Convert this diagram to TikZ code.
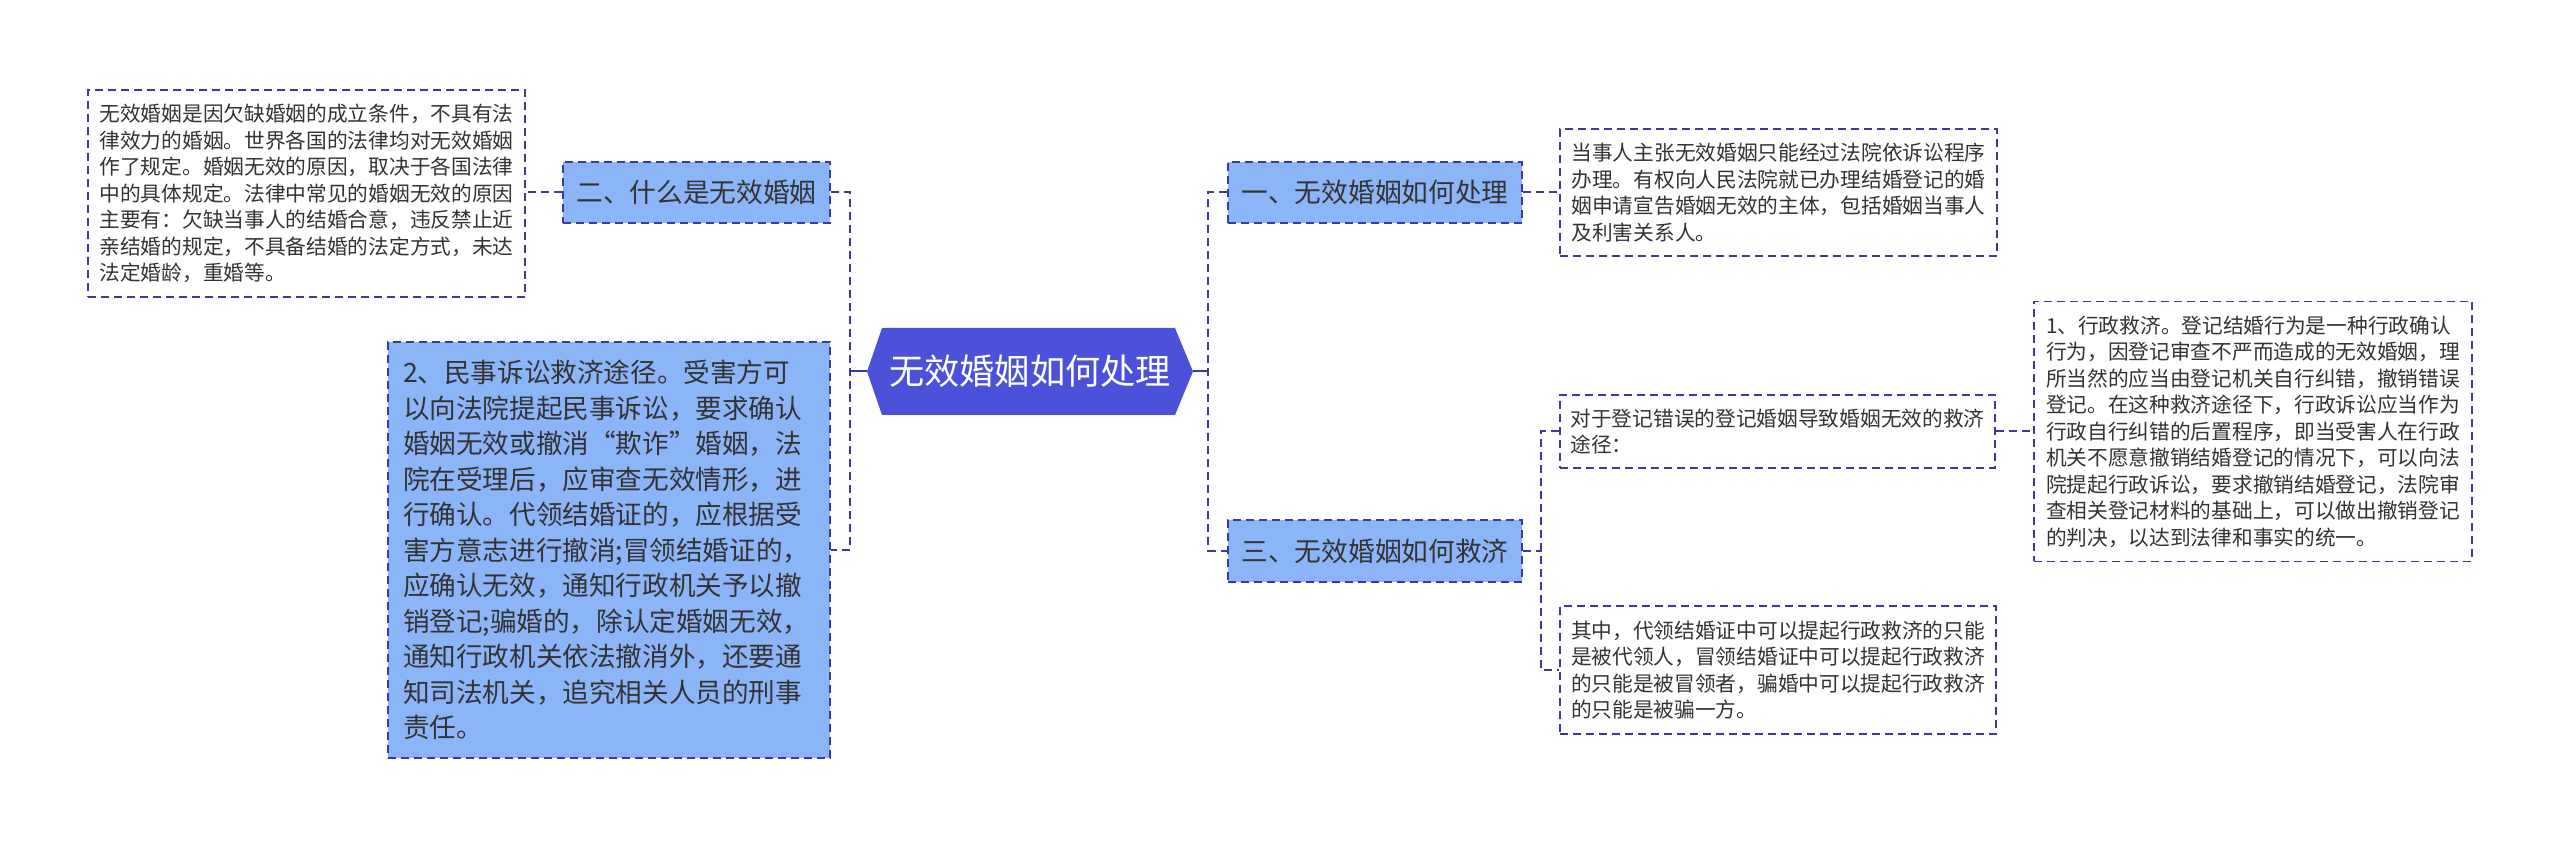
\documentclass[tikz,border=0pt]{standalone}
\usepackage{fontspec}
\setmainfont{Noto Sans CJK SC}
\usetikzlibrary{calc}
\definecolor{dashblue}{HTML}{3838A8}
\definecolor{lightblue}{HTML}{8CB5F8}
\definecolor{hexblue}{HTML}{4B52D9}
\definecolor{txtgray}{HTML}{333333}
\tikzset{
  conn/.style={draw=dashblue, line width=1pt, dash pattern=on 4pt off 2.5pt},
  stub/.style={draw=dashblue, line width=1pt},
  smallbox/.style={draw=dashblue, line width=0.8pt, dash pattern=on 4pt off 2.5pt, fill=white,
    inner sep=0pt, align=left, text=txtgray, text width=207pt,
    font=\fontsize{10.35pt}{13.25pt}\selectfont},
  branchbox/.style={draw=dashblue, line width=1pt, dash pattern=on 4pt off 2.5pt, fill=lightblue,
    inner sep=0pt, align=center, text=txtgray,
    font=\fontsize{13.35pt}{17pt}\selectfont},
  bigbox/.style={draw=dashblue, line width=1pt, dash pattern=on 4pt off 2.5pt, fill=lightblue,
    inner sep=0pt, align=left, text=txtgray, text width=206pt,
    font=\fontsize{13.3pt}{17.75pt}\selectfont},
  roottext/.style={inner sep=0pt, text=white, font=\fontsize{17.6pt}{20pt}\selectfont}
}
\begin{document}
\begin{tikzpicture}[x=0.5pt,y=-0.5pt]
\useasboundingbox[fill=white] (0,0) rectangle (2560,849);
% central hexagon
\fill[hexblue] (867,371.5) -- (882,328) -- (1175,328) -- (1193,371.5) -- (1175,415) -- (882,415) -- cycle;
\node[roottext] (root) at (1030,371.5) {无效婚姻如何处理};
\coordinate (rw) at (867,371.5);
\coordinate (re) at (1193,371.5);
\coordinate (lj) at (850,371.5);
\coordinate (rj) at (1208,371.5);
% left side
\node[branchbox, minimum width=133.5pt, minimum height=30.5pt] (b2) at (696.5,192.5) {二、什么是无效婚姻};
\node[smallbox, minimum width=218.5pt, minimum height=103.5pt] (t2) at (306.5,193.5) {无效婚姻是因欠缺婚姻的成立条件，不具有法\\律效力的婚姻。世界各国的法律均对无效婚姻\\作了规定。婚姻无效的原因，取决于各国法律\\中的具体规定。法律中常见的婚姻无效的原因\\主要有：欠缺当事人的结婚合意，违反禁止近\\亲结婚的规定，不具备结婚的法定方式，未达\\法定婚龄，重婚等。};
\node[bigbox, minimum width=221pt, minimum height=208pt] (big) at (609,550) {2、民事诉讼救济途径。受害方可\\以向法院提起民事诉讼，要求确认\\婚姻无效或撤消“欺诈”婚姻，法\\院在受理后，应审查无效情形，进\\行确认。代领结婚证的，应根据受\\害方意志进行撤消;冒领结婚证的，\\应确认无效，通知行政机关予以撤\\销登记;骗婚的，除认定婚姻无效，\\通知行政机关依法撤消外，还要通\\知司法机关，追究相关人员的刑事\\责任。};
% right side
\node[branchbox, minimum width=147pt, minimum height=30.5pt] (b1) at (1375,192.5) {一、无效婚姻如何处理};
\node[branchbox, minimum width=147pt, minimum height=31pt] (b3) at (1375,551) {三、无效婚姻如何救济};
\node[smallbox, minimum width=218.5pt, minimum height=63.5pt] (t1) at (1778.5,192.5) {当事人主张无效婚姻只能经过法院依诉讼程序\\办理。有权向人民法院就已办理结婚登记的婚\\姻申请宣告婚姻无效的主体，包括婚姻当事人\\及利害关系人。};
\node[smallbox, minimum width=217.5pt, minimum height=36.5pt] (t3a) at (1777.5,431.5) {对于登记错误的登记婚姻导致婚姻无效的救济\\途径：};
\node[smallbox, minimum width=218pt, minimum height=64pt] (t3b) at (1778,670) {其中，代领结婚证中可以提起行政救济的只能\\是被代领人，冒领结婚证中可以提起行政救济\\的只能是被冒领者，骗婚中可以提起行政救济\\的只能是被骗一方。};
\node[smallbox, minimum width=219pt, minimum height=130pt] (t3c) at (2253,431.5) {1、行政救济。登记结婚行为是一种行政确认\\行为，因登记审查不严而造成的无效婚姻，理\\所当然的应当由登记机关自行纠错，撤销错误\\登记。在这种救济途径下，行政诉讼应当作为\\行政自行纠错的后置程序，即当受害人在行政\\机关不愿意撤销结婚登记的情况下，可以向法\\院提起行政诉讼，要求撤销结婚登记，法院审\\查相关登记材料的基础上，可以做出撤销登记\\的判决，以达到法律和事实的统一。};
\coordinate (tj) at (1541,551);
% connectors
\draw[stub] (rw) -- (lj);
\draw[stub] (re) -- (rj);
\draw[conn] (b2.east) -| (lj) |- (big.east);
\draw[conn] (b1.west) -| (rj) |- (b3.west);
\draw[conn] (b2.west) -- (t2.east |- b2.west);
\draw[conn] (b1.east) -- (t1.west |- b1.east);
\draw[conn] (b3.east) -- (tj);
\draw[conn] (t3a.west) -| (tj) |- (t3b.west);
\draw[conn] (t3a.east) -- (t3c.west |- t3a.east);
\end{tikzpicture}
\end{document}
